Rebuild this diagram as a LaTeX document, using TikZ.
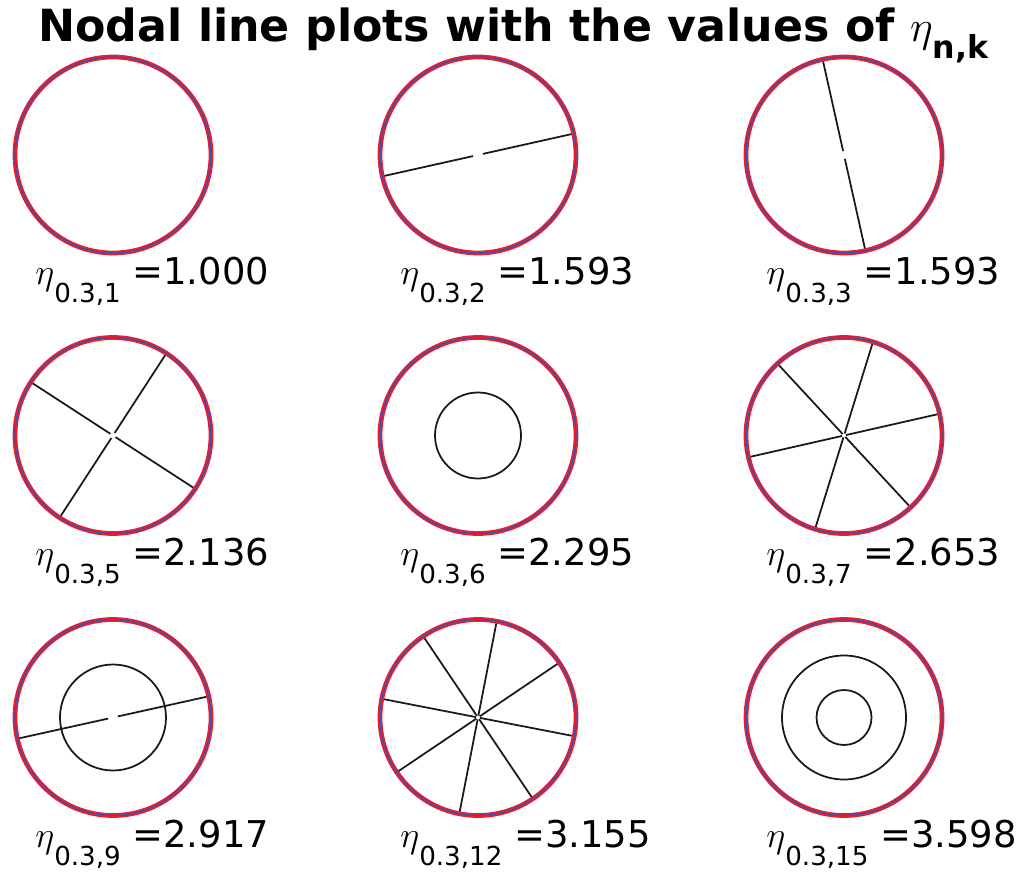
\documentclass[tikz,border=0pt]{standalone}
\usepackage{fontspec}
\setmainfont{DejaVu Sans}
\usetikzlibrary{calc}
\definecolor{rimred}{RGB}{245,25,40}
\definecolor{rimblue}{RGB}{55,85,175}
\tikzset{
  rim/.style={draw=rimred,line width=2.7pt},
  rim core/.style={draw=rimblue,line width=0.8pt},
  nodal/.style={draw=black!90,line width=1pt},
  eig label/.style={anchor=base west,inner sep=0pt,font=\fontsize{21}{23}\selectfont},
  title text/.style={anchor=base west,inner sep=0pt,font=\bfseries\fontsize{25.2}{28}\selectfont}
}
\newcommand{\etalabel}[2]{$\eta$\raisebox{-10.2pt}{\fontsize{14.9}{16}\selectfont #1}\ =#2}

\begin{document}
\begin{tikzpicture}[x=0.02cm,y=0.02cm]
  \useasboundingbox (0,0) rectangle (1026,876);
  \node[title text] (title) at (38,834)
    {Nodal line plots with the values of $\eta$\raisebox{-9.6pt}{\fontsize{18}{20}\selectfont n,k}};

  \coordinate (c1) at (113,721);
  \coordinate (c2) at (478,721);
  \coordinate (c3) at (844,721);
  \coordinate (c5) at (113,440.5);
  \coordinate (c6) at (478,440.5);
  \coordinate (c7) at (844,440.5);
  \coordinate (c9) at (113,158.5);
  \coordinate (c12) at (478,158.5);
  \coordinate (c15) at (844,158.5);

  % nodal lines, rays stop short of the centre
  \foreach \a in {12.6,192.6} \draw[nodal,shift={(c2)}] (\a:5) -- (\a:98);
  \foreach \a in {102.6,282.6} \draw[nodal,shift={(c3)}] (\a:4) -- (\a:98);
  \foreach \a in {57,147,237,327} \draw[nodal,shift={(c5)}] (\a:3) -- (\a:98);
  \draw[nodal] (c6) circle (43);
  \foreach \a in {12.8,72.8,...,372} \draw[nodal,shift={(c7)}] (\a:2) -- (\a:98);
  \foreach \a in {12.5,192.5} \draw[nodal,shift={(c9)}] (\a:5) -- (\a:98);
  \draw[nodal] (c9) circle (53);
  \foreach \a in {34,79,...,350} \draw[nodal,shift={(c12)}] (\a:2) -- (\a:98);
  \draw[nodal] (c15) circle (62);
  \draw[nodal] (c15) circle (27.5);

  % boundary
  \foreach \c in {c1,c2,c3,c5,c6,c7,c9,c12,c15} {
    \draw[rim] (\c) circle (98);
    \draw[rim core] (\c) circle (98);
  }

  % eigenvalue labels
  \foreach \c/\k/\v in {c1/1/1.000,c2/2/1.593,c3/3/1.593,c5/5/2.136,c6/6/2.295,
                        c7/7/2.653,c9/9/2.917,c12/12/3.155,c15/15/3.598}
    \node[eig label] (lab\k) at ($(\c)+(-78,-130)$) {\etalabel{0.3,\k}{\v}};
\end{tikzpicture}
\end{document}
